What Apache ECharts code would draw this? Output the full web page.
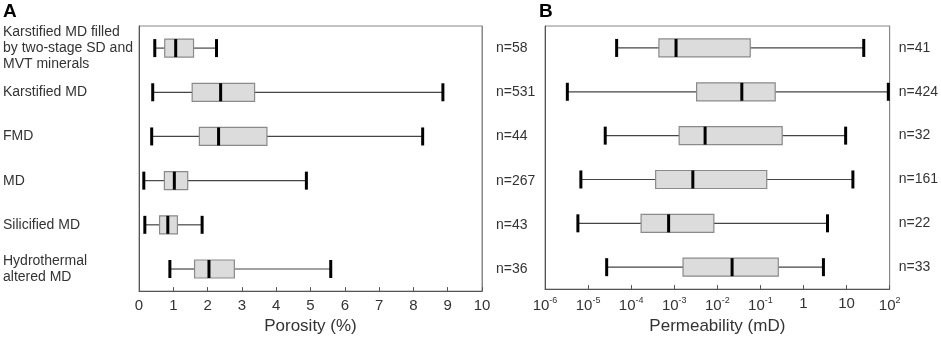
<!DOCTYPE html>
<html>
<head>
<meta charset="utf-8">
<script src="https://cdn.jsdelivr.net/npm/echarts@6/dist/echarts.min.js"></script>
<style>
  html, body { margin: 0; padding: 0; background: #fff; }
  #chart { width: 941px; height: 340px; }
</style>
</head>
<body>
<div id="chart"></div>
<script>
const categories = [
    'Karstified MD filled\nby two-stage SD and\nMVT minerals',
    'Karstified MD',
    'FMD',
    'MD',
    'Silicified MD',
    'Hydrothermal\naltered MD'
];
const porosityN = [58, 531, 44, 267, 43, 36];
const permeabilityN = [41, 424, 32, 161, 22, 33];

// [min, q1, median, q3, max]
const porosity = [
    [0.46, 0.75, 1.07, 1.59, 2.26],
    [0.40, 1.55, 2.38, 3.37, 8.86],
    [0.37, 1.76, 2.32, 3.73, 8.27],
    [0.14, 0.74, 1.03, 1.42, 4.88],
    [0.17, 0.60, 0.84, 1.12, 1.84],
    [0.90, 1.62, 2.04, 2.78, 5.59]
];
const permeability = [
    [4.6e-5, 4.4e-4, 1.1e-3, 0.058, 25],
    [3.3e-6, 3.3e-3, 0.037, 0.22, 93],
    [2.5e-5, 1.3e-3, 5.2e-3, 0.32, 9.5],
    [6.8e-6, 3.7e-4, 2.7e-3, 0.14, 14],
    [5.8e-6, 1.7e-4, 7.4e-4, 8.3e-3, 3.6],
    [2.7e-5, 1.6e-3, 0.022, 0.26, 2.9]
];
const porosityTicks = [0, 1, 2, 3, 4, 5, 6, 7, 8, 9, 10];
const permeabilityTicks = ['10{sup|-6}', '10{sup|-5}', '10{sup|-4}', '10{sup|-3}', '10{sup|-2}', '10{sup|-1}', '1', '10', '10{sup|2}'];

const font = '"Liberation Sans", Arial, sans-serif';
const textColor = '#333';

const renderBox = (params, api) => {
    const c = api.value(0);
    const p = [1, 2, 3, 4, 5].map((i) => api.coord([api.value(i), c]));
    const y = p[0][1];
    const h = 18;
    const lineStyle = { stroke: '#444', lineWidth: 1.2 };
    return {
        type: 'group',
        children: [
            { type: 'line', shape: { x1: p[0][0], y1: y, x2: p[1][0], y2: y }, style: lineStyle },
            { type: 'line', shape: { x1: p[3][0], y1: y, x2: p[4][0], y2: y }, style: lineStyle },
            {
                type: 'rect',
                shape: { x: p[1][0], y: y - h / 2, width: p[3][0] - p[1][0], height: h },
                style: { fill: '#dcdcdc', stroke: '#8a8a8a', lineWidth: 1.2 }
            },
            { type: 'line', shape: { x1: p[2][0], y1: y - h / 2, x2: p[2][0], y2: y + h / 2 }, style: { stroke: '#000', lineWidth: 3 } },
            { type: 'line', shape: { x1: p[0][0], y1: y - h / 2, x2: p[0][0], y2: y + h / 2 }, style: { stroke: '#000', lineWidth: 3 } },
            { type: 'line', shape: { x1: p[4][0], y1: y - h / 2, x2: p[4][0], y2: y + h / 2 }, style: { stroke: '#000', lineWidth: 3 } }
        ]
    };
};

const toData = (rows) => rows.map((r, i) => [i].concat(r));

const yAxisBase = (gridIndex, position) => ({
    type: 'category',
    gridIndex: gridIndex,
    position: position,
    inverse: true,
    data: categories,
    axisLine: { show: true, lineStyle: { color: position === 'left' ? '#555' : '#888', width: 1 } },
    axisTick: { show: false },
    splitLine: { show: false }
});

const chart = echarts.init(document.getElementById('chart'));
chart.setOption({
    animation: false,
    textStyle: { fontFamily: font },
    title: [
        { text: 'A', left: 3, top: 2, padding: 0, textStyle: { fontSize: 19, fontWeight: 'bold', color: '#000', fontFamily: font } },
        { text: 'B', left: 539, top: 2, padding: 0, textStyle: { fontSize: 19, fontWeight: 'bold', color: '#000', fontFamily: font } }
    ],
    grid: [
        { left: 137, right: 459, top: 26, bottom: 45, show: true, borderColor: '#888', borderWidth: 1 },
        { left: 545, right: 50, top: 26, bottom: 45, show: true, borderColor: '#888', borderWidth: 1 }
    ],
    xAxis: [
        {
            type: 'value',
            gridIndex: 0,
            min: 0,
            max: 10,
            interval: 1,
            name: 'Porosity (%)',
            nameLocation: 'middle',
            nameGap: 24,
            nameTextStyle: { fontSize: 17, color: textColor, fontFamily: font },
            axisLine: { show: true, lineStyle: { color: '#555' } },
            axisTick: { show: true, inside: true, length: 4, lineStyle: { color: '#555' } },
            axisLabel: {
                fontSize: 15, color: textColor, margin: 7,
                formatter: (v) => String(porosityTicks[Math.round(v)])
            },
            splitLine: { show: false }
        },
        {
            type: 'log',
            gridIndex: 1,
            logBase: 10,
            min: 1e-6,
            max: 100,
            splitNumber: 8,
            name: 'Permeability (mD)',
            nameLocation: 'middle',
            nameGap: 24,
            nameTextStyle: { fontSize: 17, color: textColor, fontFamily: font },
            axisLine: { show: true, lineStyle: { color: '#555' } },
            axisTick: { show: true, inside: true, length: 4, lineStyle: { color: '#555' } },
            axisLabel: {
                fontSize: 15, color: textColor, margin: 7,
                formatter: (v) => permeabilityTicks[Math.round(Math.log10(v)) + 6],
                rich: {
                    sup: { fontSize: 9, color: textColor, verticalAlign: 'bottom', padding: [0, 0, 10, 0] }
                }
            },
            splitLine: { show: false }
        }
    ],
    yAxis: [
        Object.assign(yAxisBase(0, 'left'), {
            axisLabel: { align: 'left', margin: 136, fontSize: 14, lineHeight: 16, color: textColor }
        }),
        Object.assign(yAxisBase(0, 'right'), {
            axisLabel: { margin: 14, fontSize: 14, color: textColor, formatter: (v, i) => 'n=' + porosityN[i] }
        }),
        Object.assign(yAxisBase(1, 'left'), { axisLabel: { show: false } }),
        Object.assign(yAxisBase(1, 'right'), {
            axisLabel: { margin: 9, fontSize: 14, color: textColor, formatter: (v, i) => 'n=' + permeabilityN[i] }
        })
    ],
    series: [
        {
            type: 'custom',
            xAxisIndex: 0,
            yAxisIndex: 0,
            renderItem: renderBox,
            encode: { x: [1, 2, 3, 4, 5], y: 0 },
            data: toData(porosity)
        },
        {
            type: 'custom',
            xAxisIndex: 1,
            yAxisIndex: 2,
            renderItem: renderBox,
            encode: { x: [1, 2, 3, 4, 5], y: 0 },
            data: toData(permeability)
        }
    ]
});
</script>
</body>
</html>
